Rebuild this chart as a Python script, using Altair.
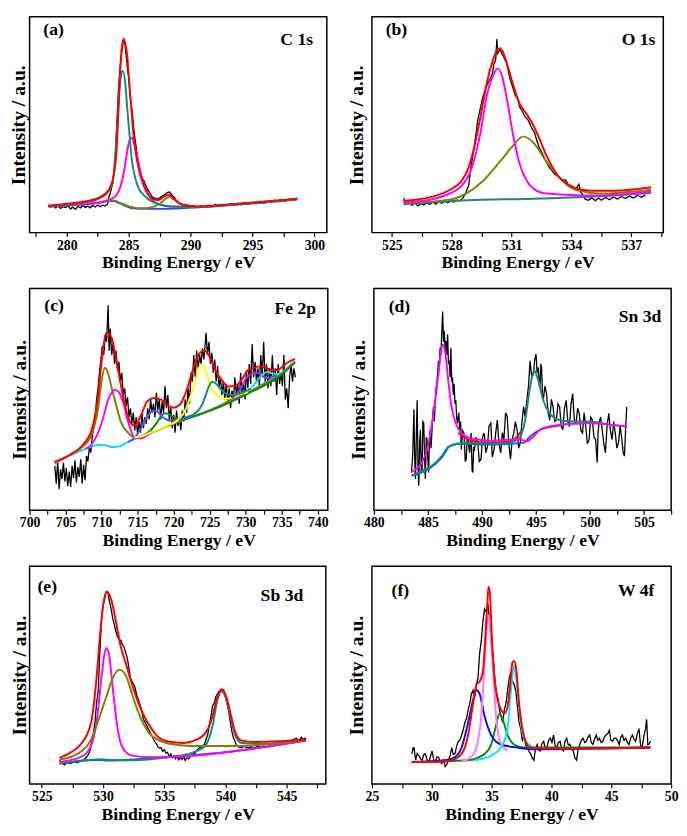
import altair as alt
import pandas as pd

FONT = "Liberation Serif"
RED, MAG, OLIVE, TEAL = "#ff0000", "#ff00ff", "#808000", "#138a80"
BLUE, CYAN, YELLOW, GREEN = "#2b4fd6", "#00e5ee", "#ffff00", "#0a8a0a"
VIOLET, PINK, BTEAL = "#9b30ff", "#ff77ff", "#2a7c96"

# ---------------- (a) C 1s ----------------
A_TICKS = [277.5, 280, 282.5, 285, 287.5, 290, 292.5, 295, 297.5, 300]
A_BLACK = [(278.5,12.8),(278.7,11.9),(278.9,12.6),(279.1,11.5),(279.3,12.3),(279.5,11.2),(279.7,12.0),(279.9,11.6),
           (280.1,12.4),(280.3,11.0),(280.5,11.8),(280.7,10.8),(280.9,12.2),(281.1,11.4),(281.3,12.6),(281.5,11.7),
           (281.7,12.3),(281.9,11.5),(282.1,12.6),(282.3,11.9),(282.5,12.8),(282.7,12.0),(282.9,12.7),(283.1,12.3),
           (283.3,13.2),(283.4,16.5),(283.5,18.0),(283.7,22.5),(283.9,33.0),(284.0,45.0),(284.1,58.0),(284.2,68.0),
           (284.3,76.0),(284.4,82.0),(284.5,86.5),(284.6,89.5),(284.7,87.0),(284.8,82.0),(284.9,76.0),(285.0,72.0),
           (285.1,64.0),(285.2,60.0),(285.3,55.0),(285.4,49.0),(285.5,44.0),(285.6,40.0),(285.7,35.5),(285.8,32.0),
           (285.9,27.5),(286.0,26.5),(286.1,25.0),(286.2,24.5),(286.3,23.0),(286.4,21.5),(286.5,20.5),(286.7,18.5),
           (286.9,16.5),(287.1,16.0),(287.3,15.5),(287.5,16.0),(287.7,17.0),(287.9,17.5),(288.1,18.5),(288.3,18.8),
           (288.5,17.5),(288.7,16.2),(288.9,14.5),(289.1,13.5),(289.3,13.0),(289.5,12.4),(289.7,12.8),(289.9,12.0),
           (290.2,12.6),(290.5,11.8),(290.8,12.4),(291.1,12.0),(291.4,12.7),(291.7,12.1),(292.0,12.9),(292.3,12.3),
           (292.6,13.0),(292.9,12.5),(293.2,13.3),(293.5,12.7),(293.8,13.6),(294.1,12.9),(294.4,14.0),(294.7,13.2),
           (295.0,13.9),(295.3,13.4),(295.6,14.3),(295.9,13.6),(296.2,14.5),(296.5,14.0),(296.8,15.0),(297.1,14.3),
           (297.4,15.2),(297.7,14.6),(298.0,15.5),(298.3,15.0),(298.6,16.0)]
A_BASE = [(278.53,12.0),(280.5,12.7),(282.63,13.8),(283.42,14.7),(283.8,14.6),(284.22,13.7),(284.8,12.3),(285.27,11.3),
          (286.0,11.1),(287.92,11.0),(290.56,11.8),(293.2,12.8),(295.84,14.0),(298.62,15.5)]
A_OLIVE = [(278.53,12.2),(280.5,12.9),(282.63,14.0),(283.2,14.7),(283.55,15.0),(283.95,14.7),(284.35,13.6),(284.74,12.8),
           (285.3,11.8),(285.8,11.3),(286.4,11.3),(286.86,11.8),(287.3,12.8),(287.65,14.0),(288.0,15.8),(288.31,16.6),
           (288.6,15.6),(288.97,14.0),(289.4,12.8),(289.77,12.1),(290.6,11.9),(293.2,13.0),(295.8,14.2),(298.62,15.6)]
A_MAG = [(278.5,12.4),(280.5,13.0),(282.63,14.0),(283.5,15.5),(283.95,16.9),(284.25,20.0),(284.48,24.3),(284.7,31.0),
         (284.88,37.5),(285.05,42.5),(285.19,44.1),(285.35,43.0),(285.54,39.0),(285.75,33.5),(285.93,28.7),(286.33,20.6),
         (286.86,15.4),(287.39,13.2),(288.44,12.1),(290.6,11.9),(293.2,12.9),(295.8,14.1),(298.6,15.5)]
A_TEAL = [(278.5,12.3),(279.9,12.9),(281.3,13.8),(282.6,15.8),(283.2,18.0),(283.7,22.8),(283.95,39.0),(284.1,52.0),
          (284.22,64.0),(284.38,72.5),(284.53,75.0),(284.74,68.4),(284.88,58.0),(285.01,49.3),(285.27,33.1),(285.5,26.0),
          (285.8,20.6),(286.2,17.5),(286.6,15.4),(287.4,13.2),(288.4,12.1),(290.6,11.8),(293.2,12.8),(295.8,14.0),(298.6,15.5)]
A_RED = [(278.5,12.5),(279.9,13.3),(281.3,14.3),(282.6,16.2),(283.4,19.9),(283.8,27.0),(284.0,36.0),(284.1,47.0),
         (284.2,60.0),(284.35,78.0),(284.45,86.0),(284.6,89.7),(284.75,87.0),(284.9,81.0),(285.0,73.0),(285.15,62.5),
         (285.4,45.0),(285.6,36.0),(285.8,30.0),(286.0,25.5),(286.3,20.6),(286.6,17.5),(286.9,15.7),(287.4,15.1),
         (287.9,16.9),(288.3,17.6),(288.7,15.4),(289.4,12.8),(290.6,12.1),(293.2,13.1),(295.8,14.3),(298.6,15.7)]

# ---------------- (b) O 1s ----------------
B_TICKS = [525, 526.5, 528, 529.5, 531, 532.5, 534, 535.5, 537, 538.5]
B_BLACK = [(525.6,16.0),(525.7,13.0),(525.85,14.0),(526.0,12.6),(526.15,13.8),(526.3,12.4),(526.45,13.5),(526.6,12.8),
           (526.75,13.9),(526.9,13.0),(527.05,14.2),(527.2,13.2),(527.35,14.4),(527.5,13.6),(527.65,14.6),(527.8,13.8),
           (527.95,14.8),(528.1,14.2),(528.25,15.0),(528.4,14.6),(528.55,16.0),(528.7,18.4),(528.85,22.0),(528.95,30.0),
           (529.1,38.0),(529.2,44.9),(529.3,52.0),(529.44,58.0),(529.55,62.5),(529.7,67.0),(529.85,70.0),(529.93,71.3),
           (530.05,74.0),(530.1,77.9),(530.2,80.0),(530.26,89.7),(530.3,83.0),(530.43,85.3),(530.5,83.0),(530.59,81.6),
           (530.7,79.5),(530.75,78.7),(530.85,74.0),(530.92,71.3),(531.0,69.0),(531.17,63.9),(531.3,62.0),(531.41,58.1),
           (531.55,56.0),(531.66,53.7),(531.8,52.5),(531.9,50.7),(532.0,48.5),(532.15,46.3),(532.25,43.0),(532.4,38.9),
           (532.5,37.5),(532.64,34.6),(532.75,32.5),(532.89,30.1),(533.0,29.0),(533.14,27.2),(533.25,26.5),(533.38,25.7),
           (533.5,24.5),(533.71,24.3),(533.85,22.0),(534.04,21.3),(534.2,20.0),(534.37,22.5),(534.45,19.0),(534.6,17.0),
           (534.7,15.4),(534.85,15.0),(535.0,16.2),(535.2,14.8),(535.36,16.0),(535.5,15.0),(535.7,16.3),(535.9,15.2),
           (536.1,16.5),(536.3,15.6),(536.5,16.8),(536.7,15.8),(536.9,17.0),(537.1,16.0),(537.3,17.2),(537.5,16.4),(537.7,17.5)]
B_BASE = [(525.58,13.2),(528.78,15.0),(532.07,15.7),(535.36,16.9),(537.99,18.4)]
B_OLIVE = [(525.58,13.7),(527.96,15.4),(528.78,18.4),(529.6,24.3),(530.43,33.1),(531.08,40.4),(531.58,44.6),(532.07,41.9),
           (532.73,33.1),(533.38,25.7),(533.88,21.3),(534.54,19.1),(535.36,18.1),(537.99,19.9)]
B_MAG = [(525.58,14.0),(527.14,15.7),(527.96,18.4),(528.45,21.3),(528.95,28.7),(529.44,46.3),(529.77,64.0),(530.1,73.5),
         (530.29,76.0),(530.51,72.8),(530.75,62.5),(531.08,44.9),(531.41,31.6),(531.74,24.3),(532.07,20.6),(532.56,18.4),
         (533.71,17.6),(535.36,17.2),(537.99,19.1)]
B_RED = [(525.58,14.7),(527.14,16.9),(527.96,20.1),(528.45,23.5),(528.78,28.7),(529.11,39.0),(529.44,53.7),(529.77,69.9),
         (530.1,80.9),(530.34,85.3),(530.51,84.6),(530.75,78.7),(531.08,68.4),(531.41,59.6),(531.74,55.1),(532.07,50.0),
         (532.4,43.4),(532.73,36.0),(533.06,30.1),(533.38,25.7),(533.88,22.1),(534.37,20.1),(535.03,19.4),(536.18,19.4),(537.99,21.0)]

# ---------------- (c) Fe 2p ----------------
C_TICKS = [700, 702.5, 705, 707.5, 710, 712.5, 715, 717.5, 720, 722.5, 725, 727.5, 730, 732.5, 735, 737.5, 740]
C_BLACK = [(703.5,20.0),(703.7,12.0),(703.9,22.0),(704.1,9.5),(704.3,18.5),(704.5,14.0),(704.7,21.5),(704.9,13.0),
           (705.1,19.0),(705.3,11.0),(705.5,17.5),(705.7,10.5),(705.9,20.0),(706.1,14.5),(706.3,22.5),(706.5,12.5),
           (706.7,19.5),(706.9,15.0),(707.1,23.0),(707.3,12.0),(707.5,20.5),(707.7,13.5),(707.9,24.5),(708.1,22.0),
           (708.3,28.5),(708.5,26.0),(708.7,33.0),(708.9,38.0),(709.1,41.0),(709.3,50.0),(709.5,55.0),(709.7,62.0),
           (709.9,68.0),(710.1,74.0),(710.3,70.0),(710.5,79.0),(710.7,76.0),(710.9,92.5),(711.05,72.0),(711.2,82.0),
           (711.4,70.0),(711.6,76.0),(711.8,66.0),(712.0,72.0),(712.2,63.0),(712.4,67.0),(712.6,58.0),(712.8,62.0),
           (713.0,52.0),(713.2,55.0),(713.4,47.0),(713.6,51.0),(713.8,42.0),(714.0,46.0),(714.2,39.0),(714.4,44.0),
           (714.6,36.0),(714.8,42.0),(715.0,34.0),(715.2,40.0),(715.4,35.0),(715.6,44.0),(715.8,37.0),(716.0,42.0),
           (716.2,39.0),(716.4,46.0),(716.6,41.0),(716.8,50.0),(717.0,44.0),(717.2,48.0),(717.4,42.0),(717.6,53.0),
           (717.8,45.0),(718.0,50.0),(718.2,41.0),(718.4,49.0),(718.6,44.0),(718.8,56.0),(719.0,46.0),(719.2,52.0),
           (719.4,40.0),(719.6,47.0),(719.8,37.0),(720.0,43.0),(720.2,35.0),(720.4,45.0),(720.6,38.0),(720.8,42.0),
           (721.0,36.0),(721.2,45.0),(721.4,40.0),(721.6,50.0),(721.8,44.0),(722.0,55.0),(722.2,48.0),(722.4,62.0),
           (722.6,58.0),(722.8,70.0),(723.0,60.0),(723.2,72.0),(723.4,64.0),(723.6,70.0),(723.8,66.0),(724.0,73.0),
           (724.2,68.0),(724.5,80.0),(724.7,70.0),(724.9,76.0),(725.1,66.0),(725.3,71.0),(725.5,62.0),(725.7,68.0),
           (725.9,58.0),(726.1,65.0),(726.3,55.0),(726.5,60.0),(726.7,52.0),(726.9,58.0),(727.1,50.0),(727.3,57.0),
           (727.5,49.0),(727.7,55.0),(727.9,46.0),(728.1,54.0),(728.3,50.0),(728.5,60.0),(728.7,52.0),(728.9,57.0),
           (729.1,48.0),(729.3,62.0),(729.5,53.0),(729.7,58.0),(729.9,50.0),(730.1,63.0),(730.3,55.0),(730.5,66.0),
           (730.7,57.0),(730.9,75.0),(731.1,60.0),(731.3,67.0),(731.5,58.0),(731.7,64.0),(731.9,56.0),(732.1,70.0),
           (732.3,60.0),(732.5,76.0),(732.7,58.0),(732.9,66.0),(733.1,55.0),(733.3,64.0),(733.5,56.0),(733.7,70.0),
           (733.9,58.0),(734.1,64.0),(734.3,52.0),(734.5,66.0),(734.7,57.0),(734.9,62.0),(735.1,56.0),(735.3,70.0),
           (735.5,50.0),(735.7,55.0),(735.9,46.0),(736.1,60.0),(736.3,66.0),(736.5,58.0),(736.7,64.0),(736.9,60.0)]
C_BASE = [(703.47,21.1),(705.5,24.5),(707.76,27.7),(709.11,29.2),(710.24,29.5),(711.37,28.5),(712.49,28.9),(713.62,30.7),
          (715.2,32.8),(716.78,34.8),(719.03,37.8),(721.29,40.7),(723.54,43.2),(725.8,46.2),(728.05,49.9),(730.31,53.1),
          (732.56,57.2),(734.82,61.6),(736.85,67.3)]
C_OLIVE = [(703.47,21.3),(705.5,24.8),(707.31,28.5),(708.3,32.0),(708.88,36.6),(709.56,46.9),(710.01,58.7),(710.46,64.3),
           (710.91,61.7),(711.37,55.5),(711.82,49.9),(712.72,39.5),(713.62,35.1),(714.52,32.9),(715.42,33.2),(716.78,34.8),
           (719.03,37.8),(721.29,40.7),(723.54,43.2),(725.8,46.2),(728.05,49.9),(730.31,53.1),(732.56,57.0),(734.82,61.2),(736.85,67.0)]
C_MAG = [(707.76,27.7),(708.21,28.5),(708.66,30.0),(709.11,32.2),(709.56,35.5),(710.01,39.5),(710.46,44.5),(710.91,49.9),
         (711.37,53.0),(711.82,54.3),(712.2,53.8),(712.49,52.8),(712.83,50.0),(713.17,46.9),(713.5,42.0),(713.85,38.1),
         (714.52,32.9),(715.42,32.4),(716.78,34.8)]
C_BLUE = [(713.62,30.7),(714.52,32.5),(715.2,35.5),(715.88,39.5),(716.5,43.0),(717.0,44.7),(717.45,45.0),(717.9,44.0),
          (718.58,41.7),(719.48,40.5),(720.39,40.6),(721.29,40.9),(722.5,42.2)]
C_GREEN = [(715.88,33.8),(716.78,36.0),(717.68,39.5),(718.3,42.5),(718.8,43.7),(719.3,43.5),(719.93,42.0),(720.6,41.2),
           (721.29,40.9),(722.5,42.0),(725.8,45.8),(730.31,52.6),(734.82,60.8),(736.85,66.6)]
C_YELLOW = [(714.52,32.9),(715.42,33.2),(716.78,35.0),(719.03,38.1),(720.84,41.5),(721.6,45.0),(722.19,49.9),(722.64,54.5),
            (723.09,59.5),(723.5,64.0),(723.77,65.8),(724.1,65.3),(724.44,63.1),(724.9,58.5),(725.35,54.3),(725.8,52.5),
            (726.25,51.3),(727.15,50.3),(728.05,50.6),(729.41,52.5),(730.31,53.3)]
C_TEAL = [(720.84,40.8),(721.74,42.0),(722.64,43.0),(723.54,45.5),(724.0,48.0),(724.44,51.8),(724.9,56.0),(725.3,58.0),
          (725.8,57.3),(726.25,55.8),(726.7,54.0),(727.15,52.8),(728.05,52.0),(728.95,52.3),(729.86,53.5),(730.76,55.0)]
C_VIOLET = [(728.05,50.5),(728.95,53.0),(729.41,55.5),(729.86,58.5),(730.31,60.5),(730.76,61.4),(731.21,61.8),(731.66,61.9),
            (732.11,61.3),(732.56,60.0),(733.01,59.6),(733.46,60.0),(733.92,60.6),(734.37,61.0)]
C_CYAN2 = [(730.76,55.5),(731.66,58.5),(732.11,60.5),(732.56,61.9),(733.01,62.3),(733.46,62.0),(733.92,61.6),(734.37,61.5),(734.82,62.0)]
C_RED = [(703.47,21.8),(705.5,24.8),(707.31,29.2),(708.66,36.6),(709.56,52.8),(710.01,67.6),(710.69,80.1),(711.37,77.9),
         (712.04,67.6),(712.72,55.8),(713.62,42.5),(714.52,38.1),(715.42,42.5),(716.33,49.1),(717.23,50.6),(718.13,50.1),
         (719.03,47.6),(719.93,46.2),(720.84,47.6),(721.74,53.5),(722.64,63.1),(723.54,70.5),(724.22,72.0),(724.9,69.8),
         (725.8,63.1),(726.7,58.7),(727.6,55.8),(728.5,56.0),(729.41,58.7),(730.31,63.1),(731.21,64.3),(732.11,64.9),
         (733.01,63.9),(733.92,63.1),(734.82,63.9),(735.72,66.4),(736.85,68.3)]

# ---------------- (d) Sn 3d ----------------
D_TICKS = [480, 482.5, 485, 487.5, 490, 492.5, 495, 497.5, 500, 502.5, 505, 507.5]
D_BLACK = [(483.48,17.0),(483.6,26.0),(483.7,45.5),(483.78,22.0),(483.85,14.1),(483.93,35.0),(484.0,49.6),(484.08,20.0),
           (484.15,11.1),(484.23,30.0),(484.3,36.3),(484.38,18.0),(484.45,17.0),(484.53,40.0),(484.61,39.3),(484.7,22.0),
           (484.76,14.1),(484.85,33.0),(484.91,31.9),(484.98,24.0),(485.06,17.0),(485.13,30.0),(485.21,36.3),(485.28,28.0),
           (485.36,34.8),(485.44,42.0),(485.51,46.7),(485.6,40.0),(485.67,49.6),(485.75,55.0),(485.82,57.0),(485.9,62.0),
           (485.97,67.4),(486.05,64.0),(486.12,73.3),(486.2,70.0),(486.27,79.3),(486.36,89.6),(486.44,76.0),(486.51,80.7),
           (486.6,72.0),(486.67,76.3),(486.75,70.0),(486.82,79.3),(486.9,66.0),(486.97,67.4),(487.05,60.0),(487.12,73.3),
           (487.2,58.0),(487.27,60.0),(487.35,52.0),(487.42,57.0),(487.5,48.0),(487.58,49.6),(487.65,42.0),(487.73,39.3),
           (487.85,44.0),(487.94,36.3),(488.02,40.0),(488.09,27.4),(488.2,36.0),(488.33,34.8),(488.45,22.0),(488.54,23.0),
           (488.62,32.0),(488.7,31.9),(488.85,26.0),(489.0,34.8),(489.08,18.0),(489.15,17.0),(489.23,28.0),(489.3,27.4),
           (489.45,33.0),(489.61,30.4),(489.75,22.0),(489.91,23.0),(490.05,33.0),(490.21,34.8),(490.35,26.0),(490.51,28.9),
           (490.65,38.0),(490.82,39.3),(490.95,24.0),(491.12,27.4),(491.27,35.0),(491.42,40.7),(491.57,30.0),(491.73,25.9),
           (491.88,35.0),(492.03,31.9),(492.18,44.0),(492.33,42.2),(492.48,30.0),(492.64,23.0),(492.79,32.0),(492.94,34.8),
           (493.09,40.0),(493.24,36.3),(493.39,28.0),(493.54,30.4),(493.7,40.0),(493.85,46.7),(494.0,42.0),(494.15,49.6),
           (494.3,56.0),(494.45,67.4),(494.6,60.0),(494.76,61.5),(494.88,68.0),(495.0,70.4),(495.1,62.0),(495.21,64.4),
           (495.3,56.0),(495.36,55.6),(495.45,66.0),(495.51,64.4),(495.6,52.0),(495.67,49.6),(495.82,56.0),(495.97,52.6),
           (496.12,44.0),(496.27,40.7),(496.42,50.0),(496.57,46.7),(496.72,40.0),(496.88,40.7),(497.03,48.0),(497.18,46.7),
           (497.33,38.0),(497.48,36.3),(497.63,46.0),(497.79,49.6),(497.94,40.0),(498.09,37.8),(498.24,48.0),(498.39,52.6),
           (498.55,40.0),(498.7,39.3),(498.85,46.0),(499.0,43.7),(499.15,36.0),(499.3,34.8),(499.45,44.0),(499.6,37.8),
           (499.75,30.0),(499.91,31.9),(500.06,42.0),(500.21,40.7),(500.36,33.0),(500.51,31.9),(500.66,21.5),(500.74,35.0),
           (500.82,39.3),(500.97,42.0),(501.12,36.3),(501.27,30.0),(501.42,25.9),(501.57,38.0),(501.73,43.7),(501.88,36.0),
           (502.03,31.9),(502.18,40.0),(502.33,34.8),(502.48,28.0),(502.63,30.4),(502.78,38.0),(502.94,31.9),(503.06,26.0),
           (503.18,24.4),(503.28,36.0),(503.39,46.7)]
D_RED = [(487.8,35.0),(488.7,32.0),(489.61,30.8),(490.82,30.4),(491.73,30.6),(492.64,31.3),(493.2,33.0),(493.6,35.5)]
D_BLUE = [(483.48,15.6),(485.06,18.5),(486.27,23.7),(487.03,28.9),(488.09,30.1),(490.21,29.6),(492.94,30.1),(493.85,30.4),
          (494.45,33.3),(495.36,36.3),(496.57,37.8),(499.6,39.3),(503.39,37.8)]
D_TEAL = [(483.48,15.6),(484.45,17.8),(485.36,20.0),(486.27,24.4),(486.88,28.6),(487.79,30.1),(488.7,30.4),(490.21,30.1),
          (491.73,30.1),(492.94,31.1),(493.54,33.3),(494.0,40.7),(494.45,55.6),(494.82,63.0),(495.21,58.5),(495.67,49.6),
          (496.27,43.7),(497.18,40.7),(498.39,40.0),(499.6,40.0),(500.82,39.6)]
D_MAG = [(483.48,17.3),(484.45,21.5),(485.06,30.4),(485.51,43.7),(485.97,61.5),(486.21,71.9),(486.36,74.8),(486.58,71.9),
         (486.88,58.5),(487.18,46.7),(487.64,38.5),(488.09,34.8),(488.7,32.9),(489.61,31.9),(490.82,31.3),(491.73,31.6),
         (492.64,31.9),(493.54,31.9),(494.15,31.1),(494.76,33.3),(495.36,36.3),(495.97,37.5),(497.18,38.5),(498.39,39.0),
         (499.6,39.3),(500.82,39.3),(502.03,38.5),(503.39,37.8)]

# ---------------- (e) Sb 3d ----------------
E_TICKS = [525, 527.5, 530, 532.5, 535, 537.5, 540, 542.5, 545, 547.5]
E_BLACK = [(526.45,10.9),(526.7,9.4),(526.84,8.7),(527.1,9.8),(527.37,9.4),(527.6,10.2),(527.9,9.7),(528.16,10.6),
           (528.42,10.9),(528.68,12.6),(528.82,13.8),(528.95,15.5),(529.08,19.6),(529.2,23.0),(529.34,28.3),(529.47,37.0),
           (529.61,42.8),(529.74,60.1),(529.87,74.6),(530.0,81.9),(530.13,84.8),(530.26,88.4),(530.4,87.7),(530.55,83.0),
           (530.66,80.4),(530.79,76.0),(530.92,73.2),(531.05,70.0),(531.19,67.4),(531.32,66.5),(531.45,65.9),(531.58,64.0),
           (531.71,63.0),(531.84,60.5),(531.97,58.0),(532.1,54.0),(532.24,48.6),(532.37,47.0),(532.5,45.7),(532.63,44.0),
           (532.76,40.6),(532.9,38.5),(533.03,36.2),(533.16,34.0),(533.29,29.7),(533.42,28.5),(533.55,27.0),(533.69,25.4),
           (533.82,24.0),(533.95,22.5),(534.08,21.0),(534.21,19.6),(534.35,18.5),(534.48,17.0),(534.61,16.5),(534.74,16.7),
           (534.87,15.0),(535.0,15.8),(535.13,14.2),(535.26,14.5),(535.4,12.6),(535.53,13.8),(535.66,12.0),(535.79,13.0),
           (535.92,11.6),(536.05,12.6),(536.19,11.0),(536.32,12.3),(536.45,11.2),(536.58,12.5),(536.71,10.8),(536.84,12.0),
           (537.0,11.5),(537.15,13.0),(537.37,13.8),(537.5,14.0),(537.63,15.2),(537.75,16.0),(537.9,16.7),(538.05,17.0),
           (538.18,17.8),(538.29,18.1),(538.42,20.5),(538.55,22.5),(538.68,27.0),(538.82,31.2),(538.95,36.0),(539.08,37.0),
           (539.21,40.0),(539.34,41.3),(539.47,42.5),(539.61,42.8),(539.74,42.3),(539.87,42.0),(540.0,41.0),(540.13,37.0),
           (540.26,33.5),(540.4,28.3),(540.53,24.0),(540.66,21.0),(540.79,19.5),(540.92,17.4),(541.05,17.0),(541.32,16.7),
           (541.6,17.2),(541.85,16.5),(542.11,17.0),(542.37,16.4),(542.6,17.4),(542.9,16.8),(543.16,17.4),(543.4,16.9),
           (543.7,18.0),(543.95,18.8),(544.1,17.6),(544.3,19.3),(544.48,18.0),(544.74,19.6),(544.9,18.4),(545.1,20.0),
           (545.27,19.0),(545.5,20.3),(545.79,21.0),(546.0,19.8),(546.2,21.5),(546.32,20.3),(546.5,21.0),(546.58,20.3)]
E_BASE = [(526.45,9.4),(529.47,11.0),(530.5,10.8),(535.26,12.3),(540.53,14.9),(546.58,19.9)]
E_TEAL = [(526.45,9.4),(528.68,10.9),(529.74,11.3),(530.79,10.9),(532.37,10.9),(535.26,12.3),(537.37,14.5),(538.42,18.1),
          (538.95,26.8),(539.34,38.4),(539.69,42.8),(540.0,39.9),(540.4,31.2),(540.79,22.5),(541.32,18.8),(543.16,18.4),(546.58,19.9)]
E_MAG = [(526.45,10.1),(528.16,12.3),(528.95,16.7),(529.47,28.3),(529.87,48.6),(530.13,60.1),(530.26,62.3),(530.47,60.1),
         (530.79,44.2),(531.19,25.4),(531.58,16.7),(532.37,13.0),(533.95,12.3),(536.58,12.6),(540.53,14.9),(546.58,19.9)]
E_OLIVE = [(526.45,11.2),(527.9,13.8),(528.95,19.6),(529.74,31.2),(530.26,39.9),(530.79,48.6),(531.32,52.5),(531.84,50.0),
           (532.37,41.3),(532.9,32.6),(533.69,23.9),(534.74,19.6),(536.32,17.8),(537.9,17.4),(540.53,17.4),(546.58,19.9)]
E_RED = [(526.45,12.0),(527.37,14.5),(528.16,18.1),(528.68,22.5),(529.08,29.7),(529.47,48.6),(529.74,67.4),(530.0,81.9),
         (530.32,88.4),(530.66,84.8),(531.05,74.6),(531.45,63.0),(531.84,55.8),(532.37,45.7),(532.9,37.0),(533.42,30.4),
         (533.95,25.4),(534.48,21.7),(535.26,19.6),(536.58,18.8),(537.63,20.3),(538.42,23.9),(538.95,31.2),(539.34,39.9),
         (539.69,43.5),(540.0,41.3),(540.4,32.6),(540.79,23.9),(541.32,19.9),(542.37,19.3),(544.48,19.6),(546.58,20.3)]

# ---------------- (f) W 4f ----------------
F_TICKS = [25, 27.5, 30, 32.5, 35, 37.5, 40, 42.5, 45, 47.5, 50]
F_BLACK = [(28.32,13.8),(28.45,16.7),(28.51,16.7),(28.65,10.9),(28.78,14.0),(28.92,13.0),(29.06,11.5),(29.2,10.9),
           (29.33,13.5),(29.47,13.8),(29.61,11.0),(29.75,10.1),(29.88,12.5),(30.02,15.2),(30.16,11.2),(30.3,10.1),
           (30.43,12.5),(30.57,12.3),(30.7,10.0),(30.84,9.4),(30.98,11.0),(31.12,8.0),(31.25,9.0),(31.39,10.9),
           (31.53,13.0),(31.67,16.7),(31.8,13.5),(31.94,13.8),(32.08,17.5),(32.22,19.6),(32.35,20.0),(32.49,22.5),
           (32.63,25.0),(32.77,28.3),(32.9,30.0),(33.04,34.1),(33.18,37.0),(33.31,41.3),(33.45,43.0),(33.59,39.9),
           (33.73,45.7),(33.86,48.6),(34.0,60.1),(34.14,65.9),(34.27,74.6),(34.41,80.4),(34.55,79.0),(34.69,82.6),
           (34.82,74.6),(34.96,65.9),(35.1,60.1),(35.24,50.0),(35.37,42.8),(35.51,39.9),(35.65,34.1),(35.78,31.2),
           (35.92,28.3),(36.06,34.1),(36.2,37.0),(36.33,42.8),(36.47,48.6),(36.61,51.4),(36.74,47.1),(36.88,45.7),
           (37.02,42.8),(37.16,35.5),(37.29,28.3),(37.43,25.4),(37.57,19.6),(37.7,22.5),(37.84,18.0),(37.98,16.7),
           (38.12,15.0),(38.25,13.8),(38.39,12.0),(38.53,10.9),(38.66,16.0),(38.8,18.1),(38.94,15.5),(39.07,15.2),
           (39.2,18.5),(39.35,19.6),(39.5,16.0),(39.62,16.7),(39.76,20.0),(39.9,21.0),(40.04,19.0),(40.17,22.5),
           (40.31,17.5),(40.45,16.7),(40.58,19.0),(40.72,19.6),(40.86,16.0),(41.0,15.2),(41.13,19.5),(41.27,21.0),
           (41.4,18.0),(41.55,18.1),(41.68,16.0),(41.82,15.2),(41.95,12.0),(42.1,10.9),(42.23,16.0),(42.37,18.1),
           (42.5,20.0),(42.64,21.0),(42.78,19.0),(42.92,19.6),(43.05,21.5),(43.19,22.5),(43.33,19.0),(43.46,18.1),
           (43.6,20.5),(43.74,22.5),(43.87,20.0),(44.01,21.0),(44.15,19.0),(44.29,19.6),(44.42,21.5),(44.56,22.5),
           (44.7,23.0),(44.84,24.6),(44.97,20.0),(45.11,19.6),(45.25,21.0),(45.38,21.0),(45.52,20.0),(45.66,18.1),
           (45.8,21.5),(45.93,22.5),(46.07,20.0),(46.21,21.0),(46.35,19.0),(46.48,18.1),(46.62,21.0),(46.76,22.5),
           (46.9,20.5),(47.03,19.6),(47.17,23.0),(47.31,25.4),(47.44,18.0),(47.58,16.7),(47.72,22.0),(47.86,25.4),
           (47.95,29.7),(48.05,18.0),(48.14,18.1),(48.27,19.6)]
F_BLUE = [(28.32,10.1),(31.12,10.9),(31.94,12.3),(32.49,16.7),(33.04,28.3),(33.45,38.4),(33.73,43.0),(34.0,41.3),
          (34.41,31.2),(34.96,22.5),(35.78,18.1),(37.16,16.7),(38.53,15.9),(48.27,16.7)]
F_PINK = [(32.5,10.3),(33.04,11.5),(33.59,14.5),(33.86,20.0),(34.14,31.2),(34.3,45.0),(34.47,60.1),(34.6,72.0),(34.74,77.5),
          (34.88,72.0),(35.02,60.1),(35.2,45.0),(35.37,31.2),(35.55,23.0),(35.78,18.5),(36.1,16.0),(36.33,15.5)]
F_CYAN = [(33.59,10.9),(34.96,13.0),(35.78,16.7),(36.33,25.4),(36.61,42.8),(36.88,54.3),(37.16,42.8),(37.43,28.3),
          (37.84,19.6),(38.53,16.7)]
F_GREEN = [(28.32,10.1),(33.04,10.9),(34.41,13.8),(34.96,18.1),(35.37,26.8),(35.65,32.3),(35.92,29.7),(36.33,22.5),
           (36.88,18.1),(37.7,16.7),(48.27,16.7)]
F_RED = [(28.32,10.1),(30.3,10.1),(31.67,10.9),(32.49,13.8),(33.04,22.5),(33.45,37.0),(33.73,45.7),(34.0,47.1),
         (34.27,51.4),(34.47,67.4),(34.63,81.9),(34.74,90.6),(34.85,87.7),(35.02,67.4),(35.24,48.6),(35.51,38.4),
         (35.78,34.1),(36.06,32.3),(36.33,35.5),(36.55,45.7),(36.74,55.8),(36.88,56.5),(37.05,52.9),(37.29,37.0),
         (37.57,25.4),(37.84,19.6),(38.25,16.7),(39.07,16.4),(41.27,16.2),(48.27,16.7)]


def line_layer(points, color, x_enc, y_enc, width=2.0, smooth=True):
    df = pd.DataFrame(points, columns=["x", "y"])
    return alt.Chart(df).mark_line(
        color=color, strokeWidth=width, clip=True,
        interpolate="monotone" if smooth else "linear",
    ).encode(x=x_enc, y=y_enc)


def text_layer(label, xpix, ypix, align):
    return alt.Chart(pd.DataFrame({"t": [label]})).mark_text(
        font=FONT, fontWeight="bold", fontSize=18, color="black",
        align=align, baseline="middle",
    ).encode(x=alt.value(xpix), y=alt.value(ypix), text="t:N")


def panel(dom, ticks, major, black, fits, tag, elem, w, h, ypad, tag_xy, elem_xy):
    x_enc = alt.X("x:Q", scale=alt.Scale(domain=dom, nice=False, zero=False),
                  axis=alt.Axis(values=ticks, labelExpr=f"datum.value % {major} == 0 ? datum.label : ''",
                                title="Binding Energy / eV", format="d"))
    y_enc = alt.Y("y:Q", scale=alt.Scale(domain=[0, 100], nice=False, zero=False),
                  axis=alt.Axis(title="Intensity / a.u.", labels=False, ticks=False, domain=False,
                                grid=False, titlePadding=ypad, titleFontSize=20))
    layers = [line_layer(black, "black", x_enc, y_enc, 1.3, False)]
    for pts, col in fits:
        layers.append(line_layer(pts, col, x_enc, y_enc))
    layers.append(text_layer(tag, tag_xy[0], tag_xy[1], "left"))
    layers.append(text_layer(elem, w - elem_xy[0], elem_xy[1], "right"))
    return alt.layer(*layers).properties(width=w, height=h)


pa = panel([277, 301], A_TICKS, 5, A_BLACK,
           [(A_BASE, BLUE), (A_OLIVE, OLIVE), (A_MAG, MAG), (A_TEAL, TEAL), (A_RED, RED)],
           "(a)", "C 1s", 303, 220, 1, (14, 14), (14, 24))
pb = panel([524, 538.6], B_TICKS, 3, B_BLACK,
           [(B_BASE, BTEAL), (B_OLIVE, OLIVE), (B_MAG, MAG), (B_RED, RED)],
           "(b)", "O 1s", 297, 220, 6, (14, 14), (8, 24))
pc = panel([700, 741.4], C_TICKS, 5, C_BLACK,
           [(C_BASE, CYAN), (C_OLIVE, OLIVE), (C_GREEN, GREEN), (C_BLUE, "#4a5aff"), (C_MAG, MAG),
            (C_YELLOW, YELLOW), (C_TEAL, TEAL), (C_VIOLET, VIOLET), (C_CYAN2, CYAN), (C_RED, RED)],
           "(c)", "Fe 2p", 304, 226, 0, (15, 18), (12, 21))
pd_ = panel([480, 507.5], D_TICKS, 5, D_BLACK,
            [(D_RED, RED), (D_BLUE, "#1f5fbf"), (D_TEAL, TEAL), (D_MAG, MAG)],
            "(d)", "Sn 3d", 303, 226, 6, (15, 19), (10, 29))
pe = panel([524, 548.2], E_TICKS, 5, E_BLACK,
           [(E_BASE, BLUE), (E_TEAL, TEAL), (E_MAG, MAG), (E_OLIVE, OLIVE), (E_RED, RED)],
           "(e)", "Sb 3d", 302, 222, 0, (8, 21), (23, 31))
pf = panel([25, 50], F_TICKS, 5, F_BLACK,
           [(F_GREEN, GREEN), (F_BLUE, "#1010e0"), (F_PINK, PINK), (F_CYAN, "#00e8f0"), (F_RED, RED)],
           "(f)", "W 4f", 305, 222, 6, (20, 25), (17, 25))

chart = alt.vconcat(
    alt.hconcat(pa, pb, spacing=18),
    alt.hconcat(pc, pd_, spacing=19),
    alt.hconcat(pe, pf, spacing=19),
    spacing=15,
).properties(padding=0).configure_view(
    stroke="black", strokeWidth=1.5
).configure_axis(
    labelFont=FONT, labelFontWeight="bold", labelFontSize=14, labelColor="black",
    titleFont=FONT, titleFontWeight="bold", titleFontSize=18, titleColor="black",
    tickColor="black", tickWidth=1.2, tickSize=4, domain=False, grid=False,
    labelPadding=2, titlePadding=2, labelFlush=False, labelOverlap=False,
)

chart.save("out.html", embed_options={"renderer": "svg", "actions": False})
